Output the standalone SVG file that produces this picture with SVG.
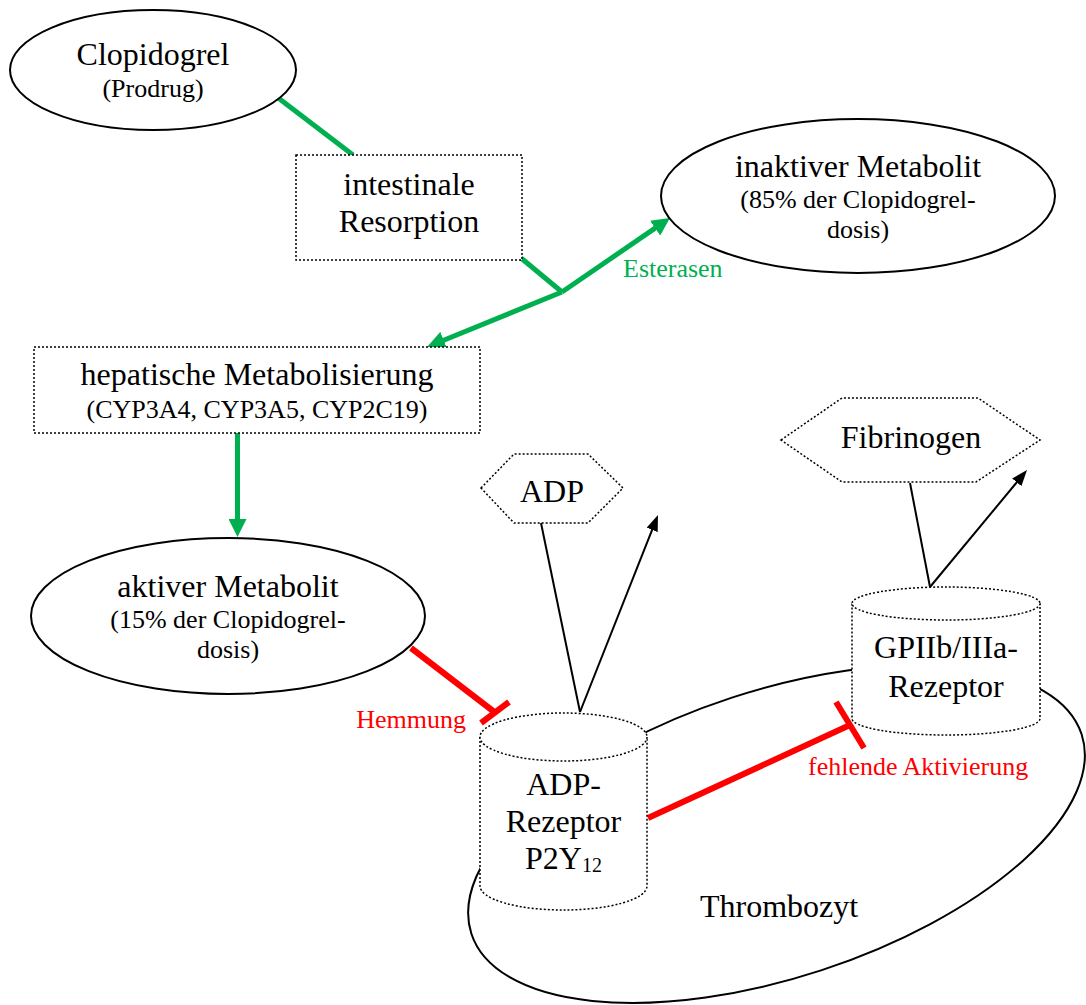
<svg xmlns="http://www.w3.org/2000/svg" width="1086" height="1005" viewBox="0 0 1086 1005">
  <style>
    text { font-family: "Liberation Serif", "Times New Roman", serif; fill: #000; text-anchor: middle; }
    .big { font-size: 32px; }
    .small { font-size: 26px; }
    .sub { font-size: 20px; }
    .lbl-green { font-size: 26px; fill: #00b050; text-anchor: start; }
    .lbl-red { font-size: 26px; fill: #ff0000; }
    .solid { fill: #fff; stroke: #000; stroke-width: 2; }
    .dotted { fill: #fff; stroke: #000; stroke-width: 1.5; stroke-dasharray: 2 2; }
    .green { stroke: #00b050; stroke-width: 5; fill: none; }
    .black { stroke: #000; stroke-width: 2; fill: none; }
    .red { stroke: #ff0000; stroke-width: 6; fill: none; }
  </style>
  <defs>
    <marker id="head-green" markerUnits="userSpaceOnUse" markerWidth="18" markerHeight="18" refX="4" refY="9" orient="auto">
      <path d="M0,0 L18,9 L0,18 z" fill="#00b050"/>
    </marker>
    <marker id="head-black" markerUnits="userSpaceOnUse" markerWidth="16" markerHeight="12" refX="3" refY="6" orient="auto">
      <path d="M0,0 L16,6 L0,12 z" fill="#000"/>
    </marker>
  </defs>

  <rect width="1086" height="1005" fill="#fff"/>

  <!-- platelet outline, drawn beneath everything else -->
  <g id="thrombozyt">
    <ellipse class="solid" cx="776.5" cy="834" rx="321" ry="143.5" transform="rotate(-18.1 776.5 834)"/>
    <text class="big" x="700" y="917" style="text-anchor:start">Thrombozyt</text>
  </g>

  <!-- connectors -->
  <g id="connectors">
    <line class="green" x1="277" y1="97" x2="353" y2="155"/>
    <line class="green" x1="521" y1="258" x2="562" y2="292"/>
    <line class="green" x1="562" y1="292" x2="658.4" y2="225.9" marker-end="url(#head-green)"/>
    <line class="green" x1="562" y1="292" x2="440" y2="341.7" marker-end="url(#head-green)"/>
    <line class="green" x1="237.5" y1="433" x2="237.5" y2="523" marker-end="url(#head-green)"/>

    <line class="black" x1="541" y1="523" x2="580" y2="712"/>
    <line class="black" x1="580" y1="712" x2="653.2" y2="527.1" marker-end="url(#head-black)"/>
    <line class="black" x1="910" y1="483" x2="930" y2="587"/>
    <line class="black" x1="930" y1="587" x2="1018.7" y2="480" marker-end="url(#head-black)"/>

    <!-- inhibition lines with their end bars -->
    <line class="red" x1="411" y1="648" x2="495" y2="712.5"/>
    <line class="red" x1="481" y1="723" x2="509" y2="702"/>
    <line class="red" x1="648" y1="818" x2="850" y2="725"/>
    <line class="red" x1="836" y1="702" x2="864" y2="748"/>

    <text class="lbl-green" x="623" y="277">Esterasen</text>
    <text class="lbl-red" x="466" y="728" style="text-anchor:end">Hemmung</text>
    <text class="lbl-red" x="808" y="775" style="text-anchor:start">fehlende Aktivierung</text>
  </g>

  <g id="clopidogrel">
    <ellipse class="solid" cx="153" cy="70" rx="143" ry="60"/>
    <text class="big" x="153" y="65">Clopidogrel</text>
    <text class="small" x="153" y="97">(Prodrug)</text>
  </g>

  <g id="resorption">
    <rect class="dotted" x="296" y="155" width="226" height="105"/>
    <text class="big" x="409" y="195">intestinale</text>
    <text class="big" x="409" y="232">Resorption</text>
  </g>

  <g id="inaktiver-metabolit">
    <ellipse class="solid" cx="858" cy="196" rx="197" ry="77"/>
    <text class="big" x="858" y="177">inaktiver Metabolit</text>
    <text class="small" x="858" y="208">(85% der Clopidogrel-</text>
    <text class="small" x="858" y="238">dosis)</text>
  </g>

  <g id="hepatisch">
    <rect class="dotted" x="34" y="347" width="446" height="86"/>
    <text class="big" x="257" y="385">hepatische Metabolisierung</text>
    <text class="small" x="257" y="418">(CYP3A4, CYP3A5, CYP2C19)</text>
  </g>

  <g id="aktiver-metabolit">
    <ellipse class="solid" cx="228" cy="616" rx="197" ry="78"/>
    <text class="big" x="228" y="597">aktiver Metabolit</text>
    <text class="small" x="228" y="628">(15% der Clopidogrel-</text>
    <text class="small" x="228" y="658">dosis)</text>
  </g>

  <g id="adp">
    <polygon class="dotted" points="481,488 514,454 588,454 623,488 588,523 514,523"/>
    <text class="big" x="552" y="502">ADP</text>
  </g>

  <g id="fibrinogen">
    <polygon class="dotted" points="781,440 842,398 978,398 1040,440 976,482 842,482"/>
    <text class="big" x="911" y="448">Fibrinogen</text>
  </g>

  <g id="gp-rezeptor">
    <path class="dotted" d="M852,603.5 L852,718.5 A94,16.5 0 0 0 1040,718.5 L1040,603.5"/>
    <ellipse class="dotted" cx="946" cy="603.5" rx="94" ry="16.5"/>
    <text class="big" x="946" y="658">GPIIb/IIIa-</text>
    <text class="big" x="946" y="697">Rezeptor</text>
  </g>

  <g id="adp-rezeptor">
    <path class="dotted" d="M480,737 L480,886 A83.5,24 0 0 0 647,886 L647,737"/>
    <ellipse class="dotted" cx="563.5" cy="737" rx="83.5" ry="24"/>
    <text class="big" x="563.5" y="795">ADP-</text>
    <text class="big" x="563.5" y="832">Rezeptor</text>
    <text class="big" x="563.5" y="869">P2Y<tspan class="sub" dy="3">12</tspan></text>
  </g>
</svg>
